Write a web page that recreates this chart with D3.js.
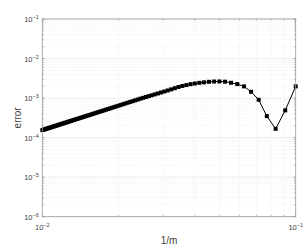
<!DOCTYPE html>
<html>
<head>
<meta charset="utf-8">
<script src="https://cdn.jsdelivr.net/npm/d3@7"></script>
<style>
html,body{margin:0;padding:0;background:#fff;}
svg{display:block;font-family:"Liberation Sans",Arial,sans-serif;}
</style>
</head>
<body>
<svg id="chart" width="305" height="245"></svg>
<script>
// m values (x = 1/m)
const mValues = d3.range(100, 9, -1);
// error for m = 100 down to 10
const errorValues = [
  1.549e-4,1.580e-4,1.614e-4,1.648e-4,1.683e-4,1.721e-4,1.758e-4,1.798e-4,1.837e-4,1.879e-4,
  1.923e-4,1.968e-4,2.014e-4,2.061e-4,2.113e-4,2.163e-4,2.218e-4,2.270e-4,2.328e-4,2.388e-4,
  2.449e-4,2.512e-4,2.582e-4,2.649e-4,2.723e-4,2.799e-4,2.877e-4,2.958e-4,3.041e-4,3.133e-4,
  3.221e-4,3.319e-4,3.420e-4,3.524e-4,3.639e-4,3.750e-4,3.873e-4,3.999e-4,4.130e-4,4.276e-4,
  4.426e-4,4.581e-4,4.742e-4,4.909e-4,5.093e-4,5.284e-4,5.495e-4,5.702e-4,5.929e-4,6.180e-4,
  6.427e-4,6.699e-4,6.998e-4,7.311e-4,7.638e-4,7.980e-4,8.356e-4,8.770e-4,9.204e-4,9.661e-4,
  1.014e-3,1.064e-3,1.117e-3,1.175e-3,1.239e-3,1.309e-3,1.384e-3,1.466e-3,1.556e-3,1.660e-3,
  1.778e-3,1.910e-3,2.028e-3,2.133e-3,2.249e-3,2.339e-3,2.432e-3,2.506e-3,2.576e-3,2.624e-3,
  2.630e-3,2.600e-3,2.438e-3,2.259e-3,1.977e-3,1.442e-3,9.057e-4,3.499e-4,1.671e-4,4.887e-4,
  1.977e-3
];
const xTickExps = [-2, -1];
const yTickExps = [-6, -5, -4, -3, -2, -1];
const xLabel = "1/m";
const yLabel = "error";

const data = mValues.map((m, i) => ({x: 1 / m, y: errorValues[i]}));

const L = 42.3, R = 295.7, T = 19, B = 216.7;
const svg = d3.select("#chart");
const x = d3.scaleLog().domain([0.01, 0.1]).range([L, R]);
const y = d3.scaleLog().domain([1e-6, 1e-1]).range([B, T]);

const majorX = xTickExps.map(e => Math.pow(10, e));
const minorX = d3.range(2, 10).map(k => k * 0.01);
const majorY = yTickExps.map(e => Math.pow(10, e));
const minorY = [];
for (let e = -6; e < -1; e++) for (let k = 2; k < 10; k++) minorY.push(k * Math.pow(10, e));

const g = svg.append("g");
// minor grid
g.selectAll(".mgx").data(minorX).join("line")
  .attr("x1", d => x(d)).attr("x2", d => x(d)).attr("y1", T).attr("y2", B)
  .attr("stroke", "#e4e4e4").attr("stroke-width", 0.6).attr("stroke-dasharray", "1,1.5");
g.selectAll(".mgy").data(minorY).join("line")
  .attr("x1", L).attr("x2", R).attr("y1", d => y(d)).attr("y2", d => y(d))
  .attr("stroke", "#e4e4e4").attr("stroke-width", 0.6).attr("stroke-dasharray", "1,1.5");
// major grid
g.selectAll(".Mgy").data(majorY).join("line")
  .attr("x1", L).attr("x2", R).attr("y1", d => y(d)).attr("y2", d => y(d))
  .attr("stroke", "#d0d0d0").attr("stroke-width", 0.7).attr("stroke-dasharray", "1,1");

// data line + markers
const line = d3.line().x(d => x(d.x)).y(d => y(d.y));
svg.append("path").datum(data).attr("d", line)
  .attr("fill", "none").attr("stroke", "#000").attr("stroke-width", 1);
svg.selectAll(".mk").data(data).join("rect")
  .attr("x", d => x(d.x) - 2).attr("y", d => y(d.y) - 2)
  .attr("width", 4).attr("height", 4).attr("fill", "#000");

// axes box and ticks
const axCol = "#9a9a9a";
const axG = svg.append("g").attr("stroke", axCol).attr("stroke-width", 0.8).attr("fill", "none");
axG.append("rect").attr("x", L).attr("y", T).attr("width", R - L).attr("height", B - T);
const tickX = (vals, len) => {
  vals.forEach(v => {
    axG.append("line").attr("x1", x(v)).attr("x2", x(v)).attr("y1", B).attr("y2", B - len);
    axG.append("line").attr("x1", x(v)).attr("x2", x(v)).attr("y1", T).attr("y2", T + len);
  });
};
const tickY = (vals, len) => {
  vals.forEach(v => {
    axG.append("line").attr("x1", L).attr("x2", L + len).attr("y1", y(v)).attr("y2", y(v));
    axG.append("line").attr("x1", R).attr("x2", R - len).attr("y1", y(v)).attr("y2", y(v));
  });
};
tickX(minorX, 1.5); tickX(majorX, 2.5);
tickY(minorY, 1.5); tickY(majorY, 2.5);

const txtCol = "#404040";
// x tick labels
xTickExps.forEach(e => {
  const t = svg.append("text").attr("x", x(Math.pow(10, e))).attr("y", B + 13.5)
    .attr("text-anchor", "middle").attr("fill", txtCol).attr("font-size", 7.5);
  t.append("tspan").text("10");
  t.append("tspan").attr("dy", -3.2).attr("font-size", 5.5).text("\u2212" + (-e));
});
// y tick labels
yTickExps.forEach(e => {
  const t = svg.append("text").attr("x", L - 3.5).attr("y", y(Math.pow(10, e)) + 3.2)
    .attr("text-anchor", "end").attr("fill", txtCol).attr("font-size", 7.5);
  t.append("tspan").text("10");
  t.append("tspan").attr("dy", -3.2).attr("font-size", 5.5).text("\u2212" + (-e));
});
// axis labels
svg.append("text").attr("x", (L + R) / 2).attr("y", 243.5).attr("text-anchor", "middle")
  .attr("fill", txtCol).attr("font-size", 10).text(xLabel);
svg.append("text").attr("transform", `translate(21,${(T + B) / 2}) rotate(-90)`)
  .attr("text-anchor", "middle").attr("fill", txtCol).attr("font-size", 10).text(yLabel);
</script>
</body>
</html>
